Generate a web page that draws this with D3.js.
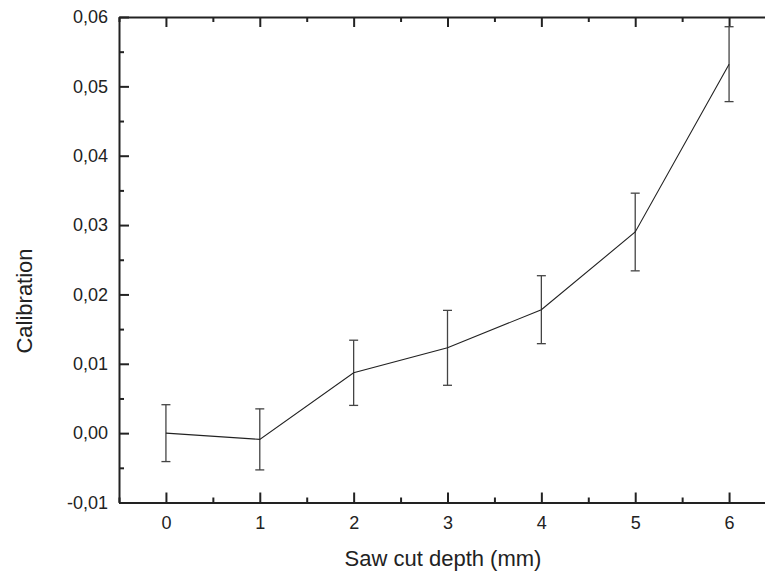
<!DOCTYPE html>
<html>
<head>
<meta charset="utf-8">
<script src="https://cdn.jsdelivr.net/npm/d3@7"></script>
<style>
  body { margin: 0; background: #fff; }
  svg { display: block; }
  .axis text { font-family: "Liberation Sans", Arial, sans-serif; font-size: 18px; fill: #222; }
  .axis path, .axis line { stroke: #222; stroke-width: 2; }
  .title { font-family: "Liberation Sans", Arial, sans-serif; font-size: 22px; fill: #222; }
</style>
</head>
<body>
<script>

const depth = [0, 1, 2, 3, 4, 5, 6]
const calibration = [0.0000, -0.0009, 0.0087, 0.0123, 0.0178, 0.0290, 0.0532]
const errors = [0.0041, 0.0044, 0.0047, 0.0054, 0.0049, 0.0056, 0.0054]

const xTicks = [0, 1, 2, 3, 4, 5, 6]
const xMinor = [-0.5, 0.5, 1.5, 2.5, 3.5, 4.5, 5.5, 6.5]
const yTicks = [-0.01, 0, 0.01, 0.02, 0.03, 0.04, 0.05, 0.06]
const yMinor = [-0.005, 0.005, 0.015, 0.025, 0.035, 0.045, 0.055]

const width = 765, height = 574
const plotLeft = 119, plotRight = 776, plotTop = 17, plotBottom = 502.5

const svg = d3.select('body').append('svg')
    .attr('width', width)
    .attr('height', height)

const x = d3.scaleLinear().domain([-0.5, 6.5]).range([plotLeft, plotRight])
const y = d3.scaleLinear().domain([-0.01, 0.06]).range([plotBottom, plotTop])

// comma decimals, plain hyphen for the minus
const fmt = d => d3.format('.2f')(d).replace('.', ',').replace('\u2212', '-')

// bottom axis, ticks pointing inward
svg.append('g').attr('class', 'axis')
    .attr('transform', `translate(0,${plotBottom})`)
    .call(d3.axisBottom(x).tickValues(xTicks).tickFormat(d3.format('d'))
        .tickSizeInner(-10).tickSizeOuter(0).tickPadding(14))

svg.append('g').attr('class', 'axis')
    .attr('transform', `translate(0,${plotBottom})`)
    .call(d3.axisBottom(x).tickValues(xMinor).tickFormat('')
        .tickSizeInner(-5).tickSizeOuter(0))
    .select('.domain').remove()

// top axis, no labels
svg.append('g').attr('class', 'axis')
    .attr('transform', `translate(0,${plotTop})`)
    .call(d3.axisTop(x).tickValues(xTicks).tickFormat('')
        .tickSizeInner(-10).tickSizeOuter(0))

svg.append('g').attr('class', 'axis')
    .attr('transform', `translate(0,${plotTop})`)
    .call(d3.axisTop(x).tickValues(xMinor).tickFormat('')
        .tickSizeInner(-5).tickSizeOuter(0))
    .select('.domain').remove()

// left axis
svg.append('g').attr('class', 'axis')
    .attr('transform', `translate(${plotLeft},0)`)
    .call(d3.axisLeft(y).tickValues(yTicks).tickFormat(fmt)
        .tickSizeInner(-10).tickSizeOuter(0).tickPadding(11))

svg.append('g').attr('class', 'axis')
    .attr('transform', `translate(${plotLeft},0)`)
    .call(d3.axisLeft(y).tickValues(yMinor).tickFormat('')
        .tickSizeInner(-5).tickSizeOuter(0))
    .select('.domain').remove()

const data = depth.map((d, i) => ({ x: d, y: calibration[i], e: errors[i] }))

// error bars
const bars = svg.append('g')
    .attr('stroke', '#444')
    .attr('stroke-width', 1.3)

bars.selectAll('line.v').data(data).join('line')
    .attr('class', 'v')
    .attr('x1', d => x(d.x)).attr('x2', d => x(d.x))
    .attr('y1', d => y(d.y - d.e)).attr('y2', d => y(d.y + d.e))

bars.selectAll('line.top').data(data).join('line')
    .attr('class', 'top')
    .attr('x1', d => x(d.x) - 4.5).attr('x2', d => x(d.x) + 4.5)
    .attr('y1', d => y(d.y + d.e)).attr('y2', d => y(d.y + d.e))

bars.selectAll('line.bot').data(data).join('line')
    .attr('class', 'bot')
    .attr('x1', d => x(d.x) - 4.5).attr('x2', d => x(d.x) + 4.5)
    .attr('y1', d => y(d.y - d.e)).attr('y2', d => y(d.y - d.e))

// the line itself
svg.append('path')
    .datum(data)
    .attr('fill', 'none')
    .attr('stroke', '#222')
    .attr('stroke-width', 1.1)
    .attr('d', d3.line().x(d => x(d.x)).y(d => y(d.y)))

// axis titles
svg.append('text').attr('class', 'title')
    .attr('x', 443).attr('y', 566)
    .attr('text-anchor', 'middle')
    .text('Saw cut depth (mm)')

svg.append('text').attr('class', 'title')
    .attr('transform', 'translate(32,301) rotate(-90)')
    .attr('text-anchor', 'middle')
    .text('Calibration')

</script>
</body>
</html>
